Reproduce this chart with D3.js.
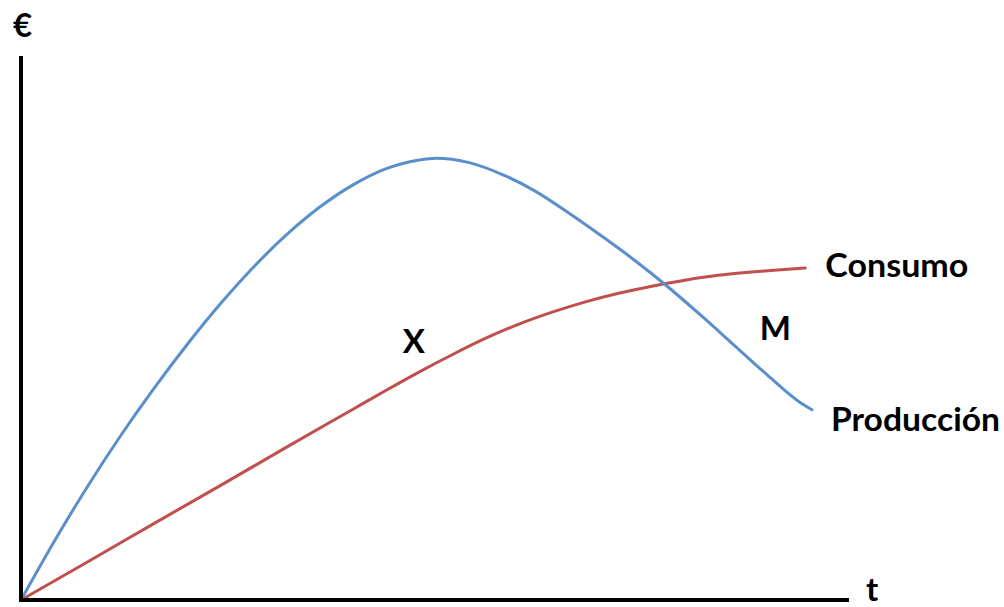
<!DOCTYPE html>
<html>
<head>
<meta charset="utf-8">
<script src="https://cdn.jsdelivr.net/npm/d3@7"></script>
<style>
  html, body { margin: 0; padding: 0; background: #fff; }
  svg { display: block; }
  text { font-family: Lato, "Open Sans", sans-serif; font-weight: 700; fill: #000; }
</style>
</head>
<body>
<svg id="chart" width="1004" height="607"></svg>
<script>
// ---- Data (arbitrary units) ----
const produccionT = [0, 0.4, 0.8, 1.2, 1.6, 2.0, 2.4, 2.8, 3.2, 3.6, 4.0, 4.4, 4.8, 5.0, 5.4, 5.8, 6.2, 6.6, 7.0, 7.4, 7.8, 8.2, 8.6, 9.0, 9.4, 9.53];
const produccionV = [0, 1.08, 2.09, 3.03, 3.90, 4.71, 5.46, 6.14, 6.74, 7.25, 7.66, 7.96, 8.12, 8.15, 8.07, 7.85, 7.54, 7.14, 6.71, 6.26, 5.77, 5.24, 4.69, 4.14, 3.63, 3.51];
const consumoT = [0, 0.8, 1.6, 2.4, 3.2, 4.0, 4.4, 4.8, 5.2, 5.6, 6.0, 6.4, 6.8, 7.2, 7.6, 8.0, 8.4, 8.8, 9.2, 9.45];
const consumoV = [0, 0.70, 1.41, 2.11, 2.82, 3.52, 3.87, 4.21, 4.53, 4.83, 5.09, 5.31, 5.50, 5.66, 5.79, 5.90, 5.99, 6.05, 6.10, 6.125];
const seriesNames = ["Producción", "Consumo"];
const axisLabels = { y: "€", x: "t" };
const pointLabels = [
  { text: "X", t: 4.6, v: 4.55 },
  { text: "M", t: 8.9, v: 4.8 }
];

// ---- Scales ----
const svg = d3.select("#chart");
const x = d3.scaleLinear().domain([0, 10]).range([21, 851]);
const y = d3.scaleLinear().domain([0, 10]).range([600, 58]);

const line = d3.line()
  .x(d => x(d[0]))
  .y(d => y(d[1]))
  .curve(d3.curveMonotoneX);

const prod = produccionT.map((t, i) => [t, produccionV[i]]);
const cons = consumoT.map((t, i) => [t, consumoV[i]]);

// ---- Curves ----
svg.append("path").datum(cons)
  .attr("d", line)
  .attr("fill", "none")
  .attr("stroke", "#C0504D")
  .attr("stroke-width", 3)
  .attr("stroke-linecap", "round");

svg.append("path").datum(prod)
  .attr("d", line)
  .attr("fill", "none")
  .attr("stroke", "#5A8FCC")
  .attr("stroke-width", 3)
  .attr("stroke-linecap", "round");

// ---- Axes (plain lines, no ticks) ----
const yAxis = d3.axisLeft(y).tickValues([]).tickSizeOuter(0);
const xAxis = d3.axisBottom(x).tickValues([]).tickSizeOuter(0);

svg.append("g").attr("transform", `translate(${x(0)},0)`).call(yAxis)
  .select(".domain")
  .attr("d", `M0,${y(0) + 2}V${y(10) - 2}`)
  .attr("stroke", "#000").attr("stroke-width", 4);

svg.append("g").attr("transform", `translate(0,${y(0)})`).call(xAxis)
  .select(".domain")
  .attr("d", `M${x(0) - 2},0H${x(10) - 2}`)
  .attr("stroke", "#000").attr("stroke-width", 4);

// ---- Labels ----
function addText(str, px, py, len) {
  const t = svg.append("text").attr("x", px).attr("y", py)
    .attr("font-size", 33).text(str);
  if (len) t.attr("textLength", len).attr("lengthAdjust", "spacingAndGlyphs");
  return t;
}

addText(axisLabels.y, 13, 37);
addText(axisLabels.x, 866, 601);

const lastCons = cons[cons.length - 1];
const lastProd = prod[prod.length - 1];
addText(seriesNames[1], x(lastCons[0]) + 20, y(lastCons[1]) + 9, 143);
addText(seriesNames[0], x(lastProd[0]) + 19, y(lastProd[1]) + 21, 169);

pointLabels.forEach(p => addText(p.text, x(p.t), y(p.v)));
</script>
</body>
</html>
